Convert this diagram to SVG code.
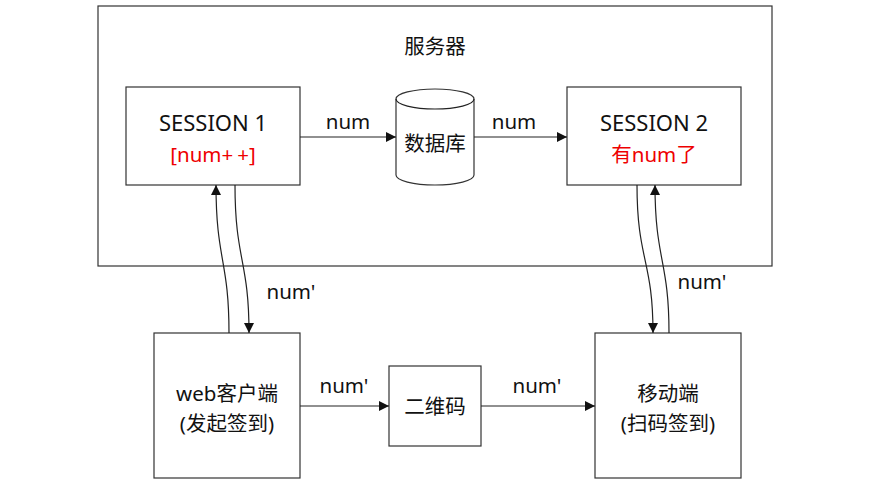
<svg xmlns="http://www.w3.org/2000/svg" width="870" height="484" viewBox="0 0 870 484">
<defs>
<style>
.box{fill:#fff;stroke:#333;stroke-width:1.2}
.ln{fill:none;stroke:#222;stroke-width:1.2}
text{font-family:"Noto Sans","Noto Sans CJK SC",sans-serif;font-size:20.5px;fill:#111;text-anchor:middle}
.big{font-size:22px}
.red{fill:#e00}
</style>
<marker id="ah" viewBox="0 0 10 10" refX="10" refY="5" markerWidth="10" markerHeight="10" markerUnits="userSpaceOnUse" orient="auto">
<path d="M0,0 L10,5 L0,10 z" fill="#111"/>
</marker>
</defs>
<rect width="870" height="484" fill="#fff"/>
<g id="server"><rect class="box" x="98" y="6" width="674" height="260"/><text x="435" y="54">服务器</text></g>
<g id="session1"><rect class="box" x="126" y="87" width="174" height="98"/><text class="big" x="213" y="131">SESSION 1</text><text class="red" x="213" y="162">[num+<tspan dx="4">+</tspan>]</text></g>
<g id="db"><path class="box" d="M396,99 L396,175 A39,10 0 0 0 474,175 L474,99 A39,10 0 0 0 396,99 z"/><path class="ln" d="M396,99 A39,10 0 0 0 474,99"/><text x="435" y="151">数据库</text></g>
<g id="session2"><rect class="box" x="567" y="87" width="174" height="98"/><text class="big" x="654" y="131">SESSION 2</text><text class="red" x="654" y="162">有num了</text></g>
<g id="web"><rect class="box" x="154" y="333" width="146" height="145"/><text x="227" y="401">web客户端</text><text x="227" y="431">(发起签到)</text></g>
<g id="qr"><rect class="box" x="389" y="366" width="92" height="80"/><text x="435" y="414">二维码</text></g>
<g id="mobile"><rect class="box" x="595" y="333" width="146" height="145"/><text x="668" y="401">移动端</text><text x="668" y="431">(扫码签到)</text></g>
<g id="connectors">
<path class="ln" d="M300,137 L396,137" marker-end="url(#ah)"/>
<path class="ln" d="M474,137 L567,137" marker-end="url(#ah)"/>
<path class="ln" d="M300,406 L389,406" marker-end="url(#ah)"/>
<path class="ln" d="M481,406 L595,406" marker-end="url(#ah)"/>
<path class="ln" d="M229,333 C229,260 216,260 216,185" marker-end="url(#ah)"/>
<path class="ln" d="M235,185 C235,260 249,260 249,333" marker-end="url(#ah)"/>
<path class="ln" d="M637,185 C637,260 653,260 653,333" marker-end="url(#ah)"/>
<path class="ln" d="M669,333 C669,260 655,260 655,185" marker-end="url(#ah)"/>
<text x="348" y="129">num</text>
<text x="514" y="129">num</text>
<text x="291" y="299">num'</text>
<text x="702" y="289">num'</text>
<text x="344" y="393">num'</text>
<text x="537" y="393">num'</text>
</g>
</svg>
